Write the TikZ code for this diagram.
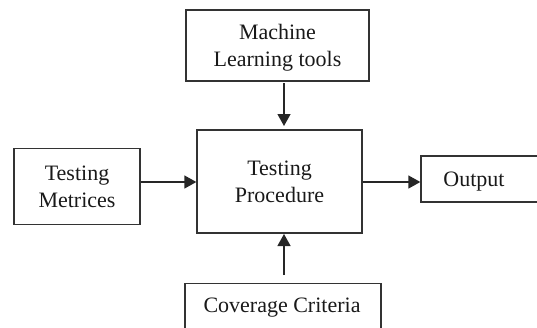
\documentclass[tikz,border=0pt]{standalone}
\usepackage{fontspec}
\setmainfont{Liberation Serif}
\usetikzlibrary{arrows.meta}
\begin{document}
\begin{tikzpicture}[x=1pt,y=-1pt,
  txt/.style={font=\fontsize{22}{27}\selectfont,text=black!90,align=center,text depth=0pt},
  box/.style={txt,draw=black!80,line width=1.3pt,inner sep=0pt},
  arr/.style={draw=black!85,line width=1.3pt,-{Triangle[length=12pt,width=13pt]}}]
\path[use as bounding box] (0,0) rectangle (537,327);
\clip (0,0) rectangle (537,327);
\node[box,minimum width=183pt,minimum height=71pt] (ml) at (277.5,45.5) {Machine\\Learning tools};
\node[box,minimum width=165pt,minimum height=103pt] (tp) at (279.5,181.5) {Testing\\Procedure};
\node[box,minimum width=126pt,minimum height=76pt] (tm) at (77,186.5) {Testing\\Metrices};
\node[box,minimum width=126pt,minimum height=46pt] (out) at (484,179) {Output\hspace*{20pt}};
\node[box,minimum width=196pt,minimum height=70pt,anchor=north] (cc) at (283,283) {};
\node[txt] (cct) at (282,305.5) {Coverage Criteria};
\coordinate (mlb) at (284,83);
\coordinate (tpt) at (284,126);
\coordinate (ccb) at (284,275);
\coordinate (tpb) at (284,234);
\draw[arr] (mlb) -- (tpt);
\draw[arr] (tm.east |- 0,182) -- (tp.west |- 0,182);
\draw[arr] (tp.east |- 0,182) -- (out.west |- 0,182);
\draw[arr] (ccb) -- (tpb);
\end{tikzpicture}
\end{document}
